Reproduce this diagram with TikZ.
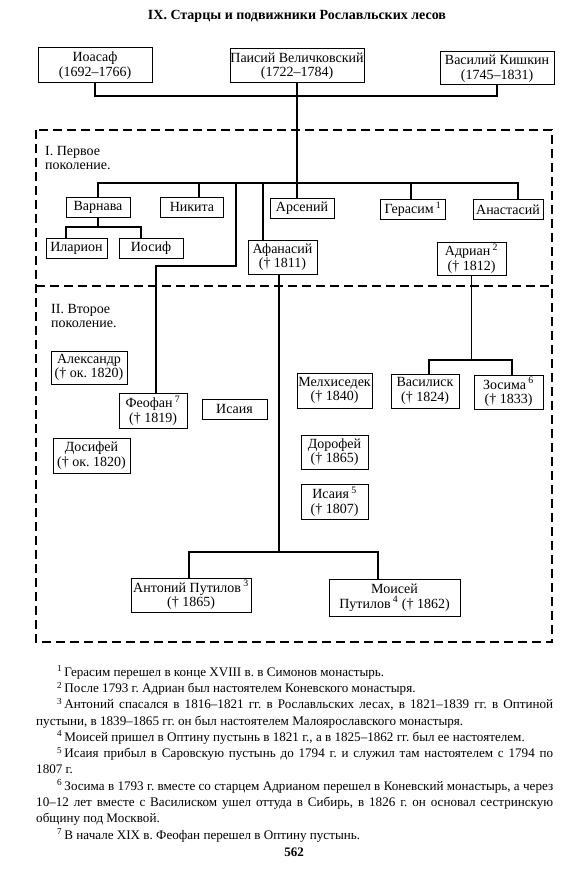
\documentclass[tikz,border=0pt]{standalone}
\usepackage{fontspec}
\setmainfont{Liberation Serif}
\frenchspacing
\newcommand{\noteline}[1]{\par\noindent\hspace*{21pt}\strut\textsuperscript{#1}\,}

\begin{document}
\begin{tikzpicture}[x=1pt, y=-1pt,
    person/.style={draw, line width=1pt, inner sep=0pt, align=center, font=\fontsize{14}{14.5}\selectfont, minimum height=20pt},
    dated/.style={person, minimum height=34pt},
    link/.style={line width=1.1pt},
    gen/.style={line width=1.4pt, dash pattern=on 9pt off 5pt},
    label/.style={anchor=north west, inner sep=0pt, align=left, font=\fontsize{14}{14}\selectfont}]
  \useasboundingbox (0,0) rectangle (575,880);

  \node[anchor=base, font=\bfseries\fontsize{14}{16}\selectfont] (title) at (297,19.5) {IX. Старцы и подвижники Рославльских лесов};

  % elders
  \node[dated, minimum width=114pt, minimum height=35pt] (ioasaf) at (95,65.5) {Иоасаф\\(1692–1766)};
  \node[dated, minimum width=134pt] (paisiy) at (297,66) {Паисий Величковский\\(1722–1784)};
  \node[dated, minimum width=114pt, minimum height=33pt] (vasiliy) at (497,68.5) {Василий Кишкин\\(1745–1831)};

  \coordinate (top) at (297,96);
  \draw[link] (ioasaf.south) |- (top) -| (vasiliy.south);

  % generation frames
  \draw[gen] (36,130) rectangle (552,642);
  \draw[gen] (36,286) -- (552,286);
  \node[label] (gen1) at (45,146) {I. Первое\\поколение.};
  \node[label] (gen2) at (51,304) {II. Второе\\поколение.};

  % first generation
  \node[person, minimum width=64pt] (varnava) at (98,207) {Варнава};
  \node[person, minimum width=63pt] (nikita) at (192,207) {Никита};
  \node[person, minimum width=64pt] (arseniy) at (302,208) {Арсений};
  \node[person, minimum width=65pt] (gerasim) at (413,209) {Герасим\,\textsuperscript{1}};
  \node[person, minimum width=70pt] (anastasiy) at (508,209.5) {Анастасий};
  \node[person, minimum width=61pt] (ilarion) at (76.5,248) {Иларион};
  \node[person, minimum width=64pt] (iosif) at (151,248) {Иосиф};
  \node[dated, minimum width=69pt] (afanasiy) at (282.5,257) {Афанасий\\(† 1811)};
  \node[dated, minimum width=69pt, minimum height=33pt] (adrian) at (471.5,258.5) {Адриан\,\textsuperscript{2}\\(† 1812)};

  \coordinate (bar) at (297,183);
  \coordinate (fstart) at (236,183);
  \coordinate (fbend) at (156,266);
  \coordinate (astart) at (263,183);
  \coordinate (vbar) at (98,227);
  \draw[link] (paisiy.south) -- (paisiy.south |- arseniy.north);
  \draw[link] (varnava.north) |- (bar) -| ([xshift=10pt]anastasiy.north);
  \draw[link] ([xshift=7pt]nikita.north) -- ++(0,-14);
  \draw[link] ([xshift=-2pt]gerasim.north) -- ++(0,-16);
  \draw[link] (astart) -- (astart |- afanasiy.north);
  \draw[link] (varnava.south) -- (vbar);
  \draw[link] ([xshift=-10.5pt]ilarion.north) |- (vbar) -| ([xshift=-10pt]iosif.north);

  % second generation
  \node[dated, minimum width=76pt, minimum height=33pt] (aleksandr) at (89,367.5) {Александр\\(† ок. 1820)};
  \node[dated, minimum width=68pt, minimum height=35pt] (feofan) at (153,410.5) {Феофан\,\textsuperscript{7}\\(† 1819)};
  \node[person, minimum width=65pt] (isaiya) at (234.5,409) {Исаия};
  \node[dated, minimum width=77pt, minimum height=35pt] (dosifey) at (91.5,455.5) {Досифей\\(† ок. 1820)};
  \node[dated, minimum width=75pt, minimum height=35pt] (melkhisedek) at (334.5,390.5) {Мелхиседек\\(† 1840)};
  \node[dated, minimum width=68pt] (vasilisk) at (425,391) {Василиск\\(† 1824)};
  \node[dated, minimum width=69pt] (zosima) at (508.5,392) {Зосима\,\textsuperscript{6}\\(† 1833)};
  \node[dated, minimum width=67pt] (dorofey) at (334.5,452) {Дорофей\\(† 1865)};
  \node[dated, minimum width=67pt, minimum height=35pt] (isaiyab) at (334.5,501.5) {Исаия\,\textsuperscript{5}\\(† 1807)};
  \node[dated, minimum width=120pt] (antoniy) at (191,595) {Антоний Путилов\,\textsuperscript{3}\\(† 1865)};
  \node[dated, minimum width=131pt, minimum height=37pt] (moisey) at (394.5,597.5) {Моисей\\Путилов\,\textsuperscript{4} († 1862)};

  \coordinate (abar) at (471.5,360);
  \coordinate (tbar) at (279,552);
  \draw[link] (fstart) |- (fbend) -- (fbend |- feofan.north);
  \draw[link] (adrian.south) -- (abar);
  \draw[link] ([xshift=4pt]vasilisk.north) |- (abar) -| ([xshift=3.5pt]zosima.north);
  \draw[link] ([xshift=-3.5pt]afanasiy.south) -- (tbar);
  \draw[link] ([xshift=-2pt]antoniy.north) |- (tbar) -| ([xshift=-16.5pt]moisey.north);

  % footnotes
  \node[anchor=north west, inner sep=0pt, text width=517pt, align=justify, font=\fontsize{13.1}{16.3}\selectfont] (notes) at (36,659.6) {\parskip=0pt
    \noteline{1}Герасим перешел в конце XVIII в. в Симонов монастырь.
    \noteline{2}После 1793 г. Адриан был настоятелем Коневского монастыря.
    \noteline{3}Антоний спасался в 1816–1821 гг. в Рославльских лесах, в 1821–1839 гг. в Оптиной\linebreak пустыни, в 1839–1865 гг. он был настоятелем Малоярославского монастыря.
    \noteline{4}Моисей пришел в Оптину пустынь в 1821 г., а в 1825–1862 гг. был ее настоятелем.
    \noteline{5}Исаия прибыл в Саровскую пустынь до 1794 г. и служил там настоятелем с 1794 по\linebreak 1807 г.
    \noteline{6}Зосима в 1793 г. вместе со старцем Адрианом перешел в Коневский монастырь, а через\linebreak 10–12 лет вместе с Василиском ушел оттуда в Сибирь, в 1826 г. он основал сестринскую\linebreak общину под Москвой.
    \noteline{7}В начале XIX в. Феофан перешел в Оптину пустынь.\par};

  \node[anchor=base, font=\bfseries\fontsize{13}{14}\selectfont] (page) at (294,856) {562};
\end{tikzpicture}
\end{document}
